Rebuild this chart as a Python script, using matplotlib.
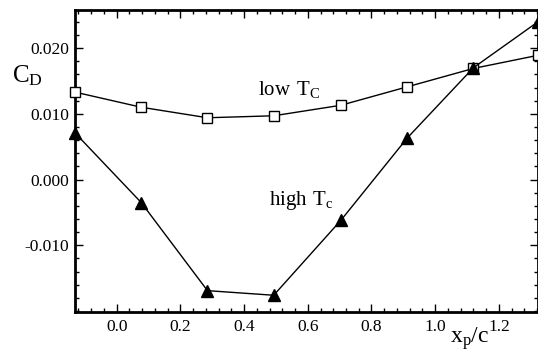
import matplotlib
matplotlib.use("Agg")
import matplotlib.pyplot as plt
from matplotlib.ticker import MultipleLocator, FormatStrFormatter

plt.rcParams['font.family'] = ['Liberation Serif', 'DejaVu Serif']
plt.rcParams['mathtext.fontset'] = 'custom'
plt.rcParams['mathtext.rm'] = 'Liberation Serif'

# Drag coefficient vs. pitching axis location
xp_c = [-0.131, 0.077, 0.285, 0.493, 0.704, 0.912, 1.120, 1.323]
cd_low_tc = [0.0133, 0.0110, 0.0094, 0.0097, 0.0113, 0.0141, 0.0169, 0.0189]
cd_high_tc = [0.0071, -0.0035, -0.0169, -0.0176, -0.0062, 0.0063, 0.0170, 0.0240]

x_ticks = [0.0, 0.2, 0.4, 0.6, 0.8, 1.0, 1.2]
y_ticks = [-0.010, 0.000, 0.010, 0.020]

fig = plt.figure(figsize=(5.38, 3.55), dpi=100)
ax = fig.add_axes([0.1394, 0.122, 0.8606, 0.850])

ax.plot(xp_c, cd_low_tc, color='black', lw=1.0, marker='s', ms=7.5,
        mfc='white', mec='black', mew=1.0, clip_on=False, zorder=3)
ax.plot(xp_c, cd_high_tc, color='black', lw=1.0, marker='^', ms=8.5,
        mfc='black', mec='black', clip_on=False, zorder=4)

ax.set_xlim(-0.131, 1.323)
ax.set_ylim(-0.0201, 0.0258)

ax.set_xticks(x_ticks)
ax.set_yticks(y_ticks)
ax.xaxis.set_major_formatter(FormatStrFormatter('%.1f'))
ax.yaxis.set_major_formatter(FormatStrFormatter('%.3f'))
ax.xaxis.set_minor_locator(MultipleLocator(0.04))
ax.yaxis.set_minor_locator(MultipleLocator(0.002))

ax.tick_params(which='both', direction='in', top=True, right=True,
               width=1.0, labelsize=12.5)
ax.tick_params(which='major', length=6)
ax.tick_params(which='minor', length=3)
ax.tick_params(axis='x', pad=5)
ax.tick_params(axis='y', pad=4)
for sp in ax.spines.values():
    sp.set_linewidth(2.0)

ax.text(0.444, 0.0129, r'$\mathregular{low\ T_C}$', fontsize=15,
        ha='left', va='baseline')
ax.text(0.477, -0.0039, r'$\mathregular{high\ T_c}$', fontsize=15,
        ha='left', va='baseline')

fig.text(0.022, 0.769, r'$\mathregular{C_D}$', fontsize=18,
         ha='left', va='baseline')
fig.text(0.836, 0.034, r'$\mathregular{x_p/c}$', fontsize=17,
         ha='left', va='baseline')

fig.savefig('out.png', dpi=100)
